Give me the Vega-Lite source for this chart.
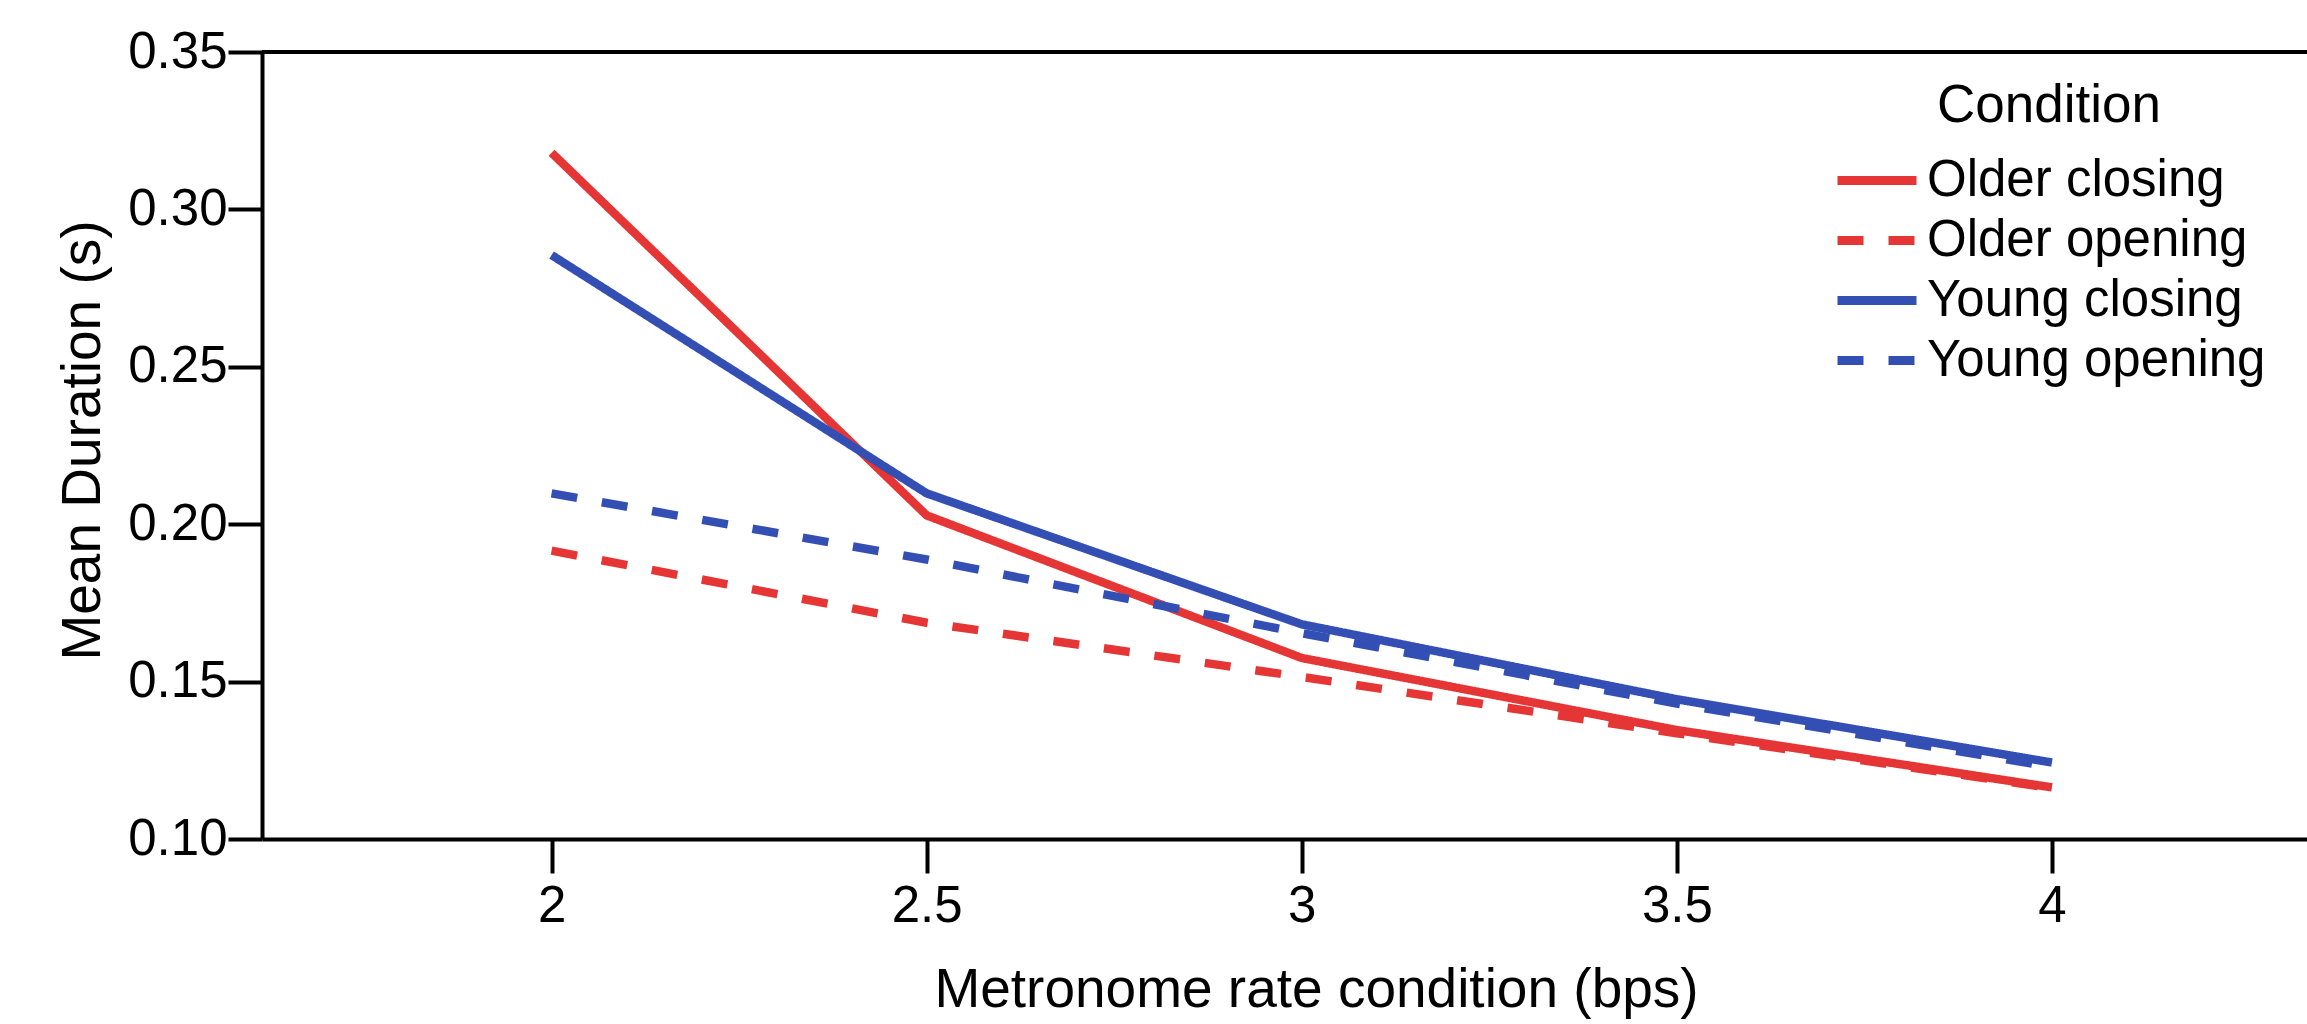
{
  "$schema": "https://vega.github.io/schema/vega-lite/v6.json",
  "autosize": {"type": "none"},
  "padding": {"left": 262, "top": 52, "right": 0, "bottom": 185},
  "width": 2045,
  "height": 787,
  "background": "white",
  "config": {
    "view": {"stroke": null},
    "font": "Liberation Sans",
    "axis": {
      "domainColor": "black",
      "domainWidth": 4,
      "tickColor": "black",
      "tickWidth": 4,
      "tickSize": 34,
      "labelFont": "Liberation Sans",
      "labelFontSize": 51,
      "labelColor": "black",
      "titleFont": "Liberation Sans",
      "titleFontSize": 55,
      "titleFontWeight": "normal",
      "titleColor": "black",
      "grid": false
    }
  },
  "data": {
    "values": [
      {"rate": 2, "dur": 0.318, "Condition": "Older closing"},
      {"rate": 2.5, "dur": 0.2028, "Condition": "Older closing"},
      {"rate": 3, "dur": 0.1575, "Condition": "Older closing"},
      {"rate": 3.5, "dur": 0.1346, "Condition": "Older closing"},
      {"rate": 4, "dur": 0.1164, "Condition": "Older closing"},
      {"rate": 2, "dur": 0.1916, "Condition": "Older opening"},
      {"rate": 2.5, "dur": 0.1687, "Condition": "Older opening"},
      {"rate": 3, "dur": 0.1515, "Condition": "Older opening"},
      {"rate": 3.5, "dur": 0.1336, "Condition": "Older opening"},
      {"rate": 4, "dur": 0.1162, "Condition": "Older opening"},
      {"rate": 2, "dur": 0.2855, "Condition": "Young closing"},
      {"rate": 2.5, "dur": 0.2098, "Condition": "Young closing"},
      {"rate": 3, "dur": 0.1682, "Condition": "Young closing"},
      {"rate": 3.5, "dur": 0.1444, "Condition": "Young closing"},
      {"rate": 4, "dur": 0.1243, "Condition": "Young closing"},
      {"rate": 2, "dur": 0.2098, "Condition": "Young opening"},
      {"rate": 2.5, "dur": 0.1888, "Condition": "Young opening"},
      {"rate": 3, "dur": 0.1654, "Condition": "Young opening"},
      {"rate": 3.5, "dur": 0.143, "Condition": "Young opening"},
      {"rate": 4, "dur": 0.1229, "Condition": "Young opening"}
    ]
  },
  "layer": [
    {
      "mark": {"type": "rule", "color": "black", "strokeWidth": 4},
      "encoding": {"y": {"datum": 0.35, "type": "quantitative", "scale": {"domain": [0.1, 0.35]}}}
    },
    {
      "mark": {"type": "line", "strokeWidth": 8.5, "strokeCap": "butt"},
      "encoding": {
        "x": {
          "field": "rate", "type": "quantitative",
          "scale": {"domain": [1.614, 4.34], "nice": false, "zero": false},
          "axis": {"values": [2, 2.5, 3, 3.5, 4], "format": ".1~f", "title": "Metronome rate condition (bps)", "labelPadding": 8, "titlePadding": 32, "titleX": 1054, "labelFlush": false}
        },
        "y": {
          "field": "dur", "type": "quantitative",
          "scale": {"domain": [0.1, 0.35], "nice": false, "zero": false},
          "axis": {"values": [0.1, 0.15, 0.2, 0.25, 0.3, 0.35], "format": ".2f", "title": "Mean Duration (s)", "labelPadding": 1, "titlePadding": 16, "titleY": 388}
        },
        "color": {
          "field": "Condition", "type": "nominal",
          "scale": {"domain": ["Older closing", "Older opening", "Young closing", "Young opening"], "range": ["#E63535", "#E63535", "#344FB4", "#344FB4"]},
          "legend": {
            "title": "Condition",
            "orient": "none",
            "legendX": 1571,
            "legendY": 28,
            "titleFontSize": 53,
            "titleFontWeight": "normal",
            "titleFont": "Liberation Sans",
            "titleColor": "black",
            "titleAnchor": "middle",
            "titlePadding": 18,
            "titleLimit": 1000,
            "labelFontSize": 51,
            "labelFont": "Liberation Sans",
            "labelColor": "black",
            "labelLimit": 1000,
            "labelOffset": 6,
            "symbolType": "stroke",
            "symbolSize": 6241,
            "symbolStrokeWidth": 9,
            "clipHeight": 59,
            "rowPadding": 1
          }
        },
        "strokeDash": {
          "field": "Condition", "type": "nominal",
          "scale": {"domain": ["Older closing", "Older opening", "Young closing", "Young opening"], "range": [[1, 0], [26, 25], [1, 0], [26, 25]]},
          "legend": null
        }
      }
    }
  ]
}
